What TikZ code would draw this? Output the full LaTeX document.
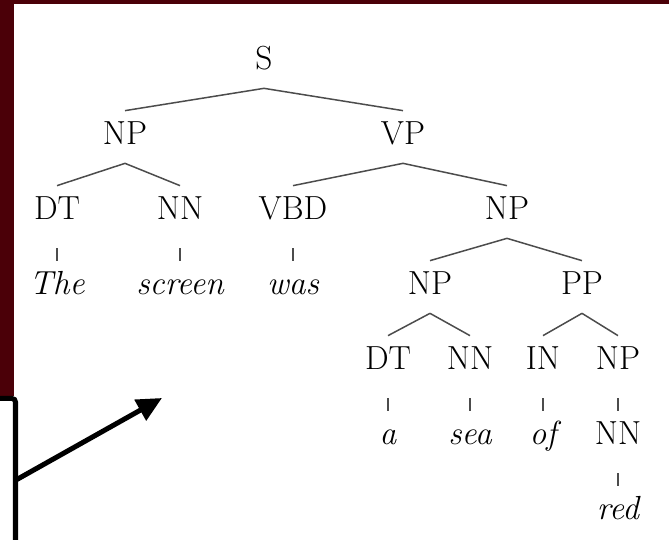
\documentclass[tikz,border=0pt]{standalone}
\usepackage{tikz}
\usetikzlibrary{arrows.meta, positioning}
\definecolor{slideframe}{RGB}{75,0,8}

\begin{document}
\begin{tikzpicture}[
  cat/.style={anchor=base, font=\fontsize{19}{23}\selectfont, text height=0.46cm, text depth=0.14cm, inner xsep=0pt, inner ysep=0.22cm},
  word/.style={cat, font=\fontsize{19}{23}\selectfont\itshape},
  branch/.style={gray!60!black, line width=0.85pt},
  stem/.style={branch, shorten <=0.2cm},
  pointer/.style={line width=0.1cm, -{Triangle[length=0.5cm,width=0.46cm]}}
]
\useasboundingbox (0,0) rectangle (13.38,10.8);
\fill[white] (0,0) rectangle (13.38,10.8);

% Slide frame
\fill[slideframe] (0,2.88) rectangle (0.28,10.8);
\fill[slideframe] (0,10.72) rectangle (13.38,10.8);

% Parse tree
\node[cat] (s) at (5.28,9.4) {S};
\node[cat] (np1) at (2.5,7.9) {NP};
\node[cat] (vp) at (8.06,7.9) {VP};
\node[cat] (dt1) at (1.14,6.4) {DT};
\node[cat] (nn1) at (3.6,6.4) {NN};
\node[cat] (vbd) at (5.86,6.4) {VBD};
\node[cat] (np2) at (10.14,6.4) {NP};
\node[word] (the) at (1.14,4.9) {The};
\node[word] (screen) at (3.6,4.9) {screen};
\node[word] (was) at (5.86,4.9) {was};
\node[cat] (np3) at (8.6,4.9) {NP};
\node[cat] (pp) at (11.64,4.9) {PP};
\node[cat] (dt2) at (7.76,3.4) {DT};
\node[cat] (nn2) at (9.4,3.4) {NN};
\node[cat] (in) at (10.86,3.4) {IN};
\node[cat] (np4) at (12.36,3.4) {NP};
\node[word] (a) at (7.76,1.9) {a};
\node[word] (sea) at (9.4,1.9) {sea};
\node[word] (of) at (10.86,1.9) {of};
\node[cat] (nn3) at (12.36,1.9) {NN};
\node[word] (red) at (12.36,0.4) {red};

\foreach \p/\c in {s/np1, s/vp, np1/dt1, np1/nn1, vp/vbd, vp/np2, np2/np3, np2/pp, np3/dt2, np3/nn2, pp/in, pp/np4} {
  \draw[branch] (\p.south) -- (\c.north);
}
\foreach \p/\c in {dt1/the, nn1/screen, vbd/was, dt2/a, nn2/sea, in/of, np4/nn3, nn3/red} {
  \draw[stem] (\p.south) -- (\c.north);
}

% Callout box and arrow
\node[draw, fill=white, line width=0.1cm, rounded corners=2pt, minimum width=3cm, minimum height=3cm, inner sep=0pt, anchor=north east] (callout) at (0.36,2.88) {};
\coordinate (tail) at (0.32,1.2);
\coordinate (tip) at (3.24,2.84);
\draw[pointer] (tail) -- (tip);
\end{tikzpicture}
\end{document}
